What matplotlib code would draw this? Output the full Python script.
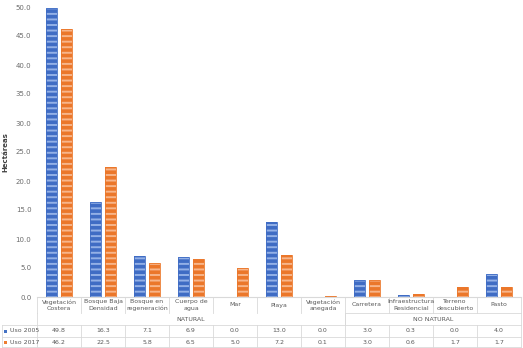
import numpy as np
import matplotlib.pyplot as plt
import matplotlib.transforms as mtransforms
from matplotlib.lines import Line2D

categories = ["Vegetación\nCostera", "Bosque Baja\nDensidad", "Bosque en\nregeneración",
              "Cuerpo de\nagua", "Mar", "Playa", "Vegetación\nanegada", "Carretera",
              "Infraestructura\nResidencial", "Terreno\ndescubierto", "Pasto"]
uso_2005 = [49.8, 16.3, 7.1, 6.9, 0.0, 13.0, 0.0, 3.0, 0.3, 0.0, 4.0]
uso_2017 = [46.2, 22.5, 5.8, 6.5, 5.0, 7.2, 0.1, 3.0, 0.6, 1.7, 1.7]
groups = [("NATURAL", 0, 6), ("NO NATURAL", 7, 10)]
series_names = ["Uso 2005", "Uso 2017"]

W, H = 523, 348
fig = plt.figure(figsize=(W / 100, H / 100), dpi=100)
plt.rcParams['hatch.linewidth'] = 1.4

def fy(px):
    return 1 - px / H

ax = fig.add_axes([37 / W, fy(297), (521 - 37) / W, fy(7) - fy(297)])

x = np.arange(len(categories))
bw = 0.25
off = 0.16
for vals, pos, dark, light in [(uso_2005, x - off, "#3F6CC4", "#93B0E6"),
                               (uso_2017, x + off, "#EB772A", "#F7B58A")]:
    ax.bar(pos, vals, bw, color=dark, edgecolor=light, linewidth=0, hatch="---")
    ax.bar(pos, vals, bw, facecolor="none", edgecolor=dark, linewidth=0.6)

ax.set_xlim(-0.5, len(categories) - 0.5)
ax.set_ylim(0, 50)
ax.set_yticks(np.arange(0, 50.1, 5))
ax.set_yticklabels([f"{v:.1f}" for v in np.arange(0, 50.1, 5)], fontsize=5, color="#6b6b6b")
ax.tick_params(axis="y", length=0, pad=4)
ax.set_xticks([])
for s in ["top", "right", "left"]:
    ax.spines[s].set_visible(False)
ax.spines["bottom"].set_color("#d9d9d9")
ax.spines["bottom"].set_linewidth(0.8)
ax.set_ylabel("Hectáreas", fontsize=5, fontweight="bold", color="#404040", labelpad=5)

# data table below the axis
tr = mtransforms.blended_transform_factory(ax.transData, fig.transFigure)
ftr = fig.transFigure
lc = "#d9d9d9"
tc = "#595959"
fs = 4.5

def hline(x0, x1, ypx, t=tr):
    ax.add_line(Line2D([x0, x1], [fy(ypx), fy(ypx)], transform=t, color=lc, lw=0.6, clip_on=False))

def vline(xv, y0, y1):
    ax.add_line(Line2D([xv, xv], [fy(y0), fy(y1)], transform=tr, color=lc, lw=0.6, clip_on=False))

n = len(categories)
for i in range(n + 1):
    b = i - 0.5
    vline(b, 297, 313)
    vline(b, 325, 347)
for name, a, c in groups:
    vline(a - 0.5, 313, 325)
    vline(c + 0.5, 313, 325)
    ax.text((a + c) / 2, fy(319.5), name, transform=tr, ha="center", va="center", fontsize=fs, color=tc)
hline(6.5, n - 0.5, 313)
for ypx in (325, 337, 347):
    hline(-0.5, n - 0.5, ypx)
    hline(2 / W, 37 / W, ypx, t=ftr)
ax.add_line(Line2D([2 / W, 2 / W], [fy(325), fy(347)], transform=ftr, color=lc, lw=0.6, clip_on=False))

for i, cat in enumerate(categories):
    ax.text(i, fy(305), cat, transform=tr, ha="center", va="center", fontsize=fs,
            color=tc, linespacing=1.3)
    ax.text(i, fy(331), f"{uso_2005[i]:.1f}", transform=tr, ha="center", va="center", fontsize=fs, color=tc)
    ax.text(i, fy(342), f"{uso_2017[i]:.1f}", transform=tr, ha="center", va="center", fontsize=fs, color=tc)

for ypx, name, col in [(331, series_names[0], "#4472C4"), (342, series_names[1], "#ED7D31")]:
    fig.patches.append(plt.Rectangle((4 / W, fy(ypx) - 1.5 / H), 3 / W, 3 / H, transform=ftr,
                                     facecolor=col, edgecolor="none"))
    fig.text(10 / W, fy(ypx), name, ha="left", va="center", fontsize=fs, color=tc)

fig.savefig("out.png", dpi=100)
